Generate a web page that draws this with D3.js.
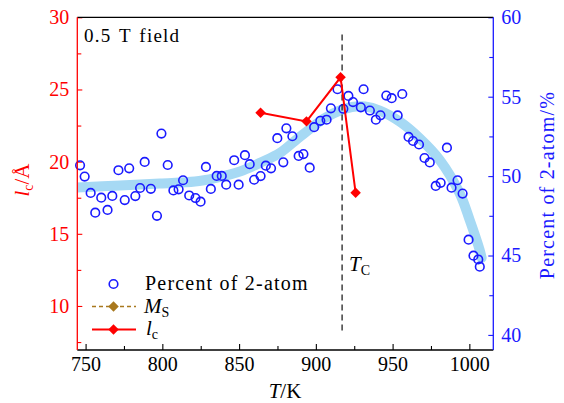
<!DOCTYPE html>
<html>
<head>
<meta charset="utf-8">
<script src="https://cdn.jsdelivr.net/npm/d3@7"></script>
<style>
  html, body { margin: 0; padding: 0; background: #fff; }
</style>
</head>
<body>
<svg id="chart" width="564" height="403"></svg>
<script>
// Percent of 2-atom (right axis)
const tempK = [746.4, 749.4, 753.3, 756.3, 760.2, 764.3, 767.4, 771.4, 775.5, 778.4,
  782.4, 785.5, 788.5, 792.5, 796.5, 799.4, 803.5, 807.2, 810.6, 813.5,
  817.5, 821.6, 824.9, 828.4, 831.6, 835.4, 838.7, 841.6, 846.8, 849.7,
  853.8, 856.9, 859.8, 864.0, 867.4, 870.8, 874.9, 878.8, 880.8, 884.7,
  888.8, 891.9, 896.0, 898.9, 902.9, 907.0, 909.8, 914.1, 917.9, 921.2,
  924.2, 929.3, 931.1, 935.2, 939.1, 942.1, 945.9, 949.4, 953.3, 956.3,
  960.4, 963.3, 967.2, 970.8, 974.2, 978.1, 981.3, 985.4, 988.4, 992.3,
  995.6, 999.5, 1002.7, 1005.8, 1006.8];
const pct2atom = [50.68, 49.97, 48.94, 47.70, 48.64, 47.87, 48.75, 50.37, 48.49, 50.49,
  48.74, 49.25, 50.89, 49.20, 47.50, 52.68, 50.70, 49.10, 49.17, 49.74,
  48.78, 48.62, 48.39, 50.58, 49.19, 50.01, 50.01, 49.46, 51.00, 49.46,
  51.32, 50.75, 49.77, 50.00, 50.66, 50.49, 52.39, 50.87, 53.01, 52.51,
  51.27, 51.39, 50.53, 53.08, 53.48, 53.55, 54.27, 55.47, 54.24, 55.05,
  54.66, 54.33, 55.47, 54.13, 53.55, 53.83, 55.07, 54.91, 53.82, 55.17,
  52.47, 52.21, 51.99, 51.14, 50.86, 49.38, 49.58, 51.79, 49.27, 49.74,
  48.90, 46.00, 44.99, 44.75, 44.30];

// smooth guide curve (light blue band)
const fitT = [744.6, 772.4, 798.4, 821.2, 834.2, 850.5, 864.8, 876.5, 886.3, 896.1,
  905.9, 915.7, 923.5, 932.0, 941.7, 954.7, 967.7, 980.7, 993.7, 1000.2, 1006.7, 1008.0];
const fitPct = [49.29, 49.41, 49.54, 49.66, 49.88, 50.29, 50.89, 51.46, 52.21, 52.97,
  53.66, 54.13, 54.35, 54.38, 54.13, 53.43, 52.38, 51.02, 48.92, 47.24, 45.35, 44.85];

// l_c (left axis)
const lcT = [864.0, 893.9, 916.1, 925.9];
const lcVal = [23.39, 22.79, 25.84, 17.85];

// Curie temperature marker
const tcK = 917.1;
const tcSpan = [8.3, 28.8];

const xMajor = [750, 800, 850, 900, 950, 1000];
const xMinor = [775, 825, 875, 925, 975];
const yLMajor = [10, 15, 20, 25, 30];
const yLMinor = [7.5, 12.5, 17.5, 22.5, 27.5];
const yRMajor = [40, 45, 50, 55, 60];
const yRMinor = [42.5, 47.5, 52.5, 57.5];

const RED = '#ff0000', BLUE = '#1a1aff', BROWN = '#a8781e', BAND = '#a6d9f4';
const SERIF = "'Liberation Serif'";

const svg = d3.select('#chart');
const L = 77.3, R = 493.3, T = 17.3, B = 350;

const x = d3.scaleLinear().domain([744.6, 1015.6]).range([L, R]);
const yL = d3.scaleLinear().domain([6.95, 30]).range([B, T]);
const yR = d3.scaleLinear().domain([39.05, 60]).range([B, T]);

svg.append('clipPath').attr('id', 'plot')
  .append('rect').attr('x', L).attr('y', T).attr('width', R - L).attr('height', B - T);

// every label goes through here so the serif face sticks
function label(sel, size) {
  return sel.style('font-family', SERIF).style('font-size', size + 'px');
}

// axes (ticks point inward)
function styleAxis(g, color) {
  g.attr('font-family', null).attr('font-size', null);
  g.select('.domain').remove();
  g.selectAll('line').attr('stroke', color).attr('stroke-width', 1.1);
  label(g.selectAll('text'), 20).attr('fill', color);
}

svg.append('g').attr('transform', `translate(0,${B})`)
  .call(d3.axisBottom(x).tickValues(xMajor).tickSize(-6).tickPadding(7).tickFormat(d3.format('d')))
  .call(g => styleAxis(g, '#000'));
svg.append('g').attr('transform', `translate(0,${B})`)
  .call(d3.axisBottom(x).tickValues(xMinor).tickSize(-4).tickFormat(''))
  .call(g => styleAxis(g, '#000'));

svg.append('g').attr('transform', `translate(${L},0)`)
  .call(d3.axisLeft(yL).tickValues(yLMajor).tickSize(-5).tickPadding(8))
  .call(g => styleAxis(g, RED));
svg.append('g').attr('transform', `translate(${L},0)`)
  .call(d3.axisLeft(yL).tickValues(yLMinor).tickSize(-4).tickFormat(''))
  .call(g => styleAxis(g, RED));

svg.append('g').attr('transform', `translate(${R},0)`)
  .call(d3.axisRight(yR).tickValues(yRMajor).tickSize(-5).tickPadding(8))
  .call(g => styleAxis(g, BLUE));
svg.append('g').attr('transform', `translate(${R},0)`)
  .call(d3.axisRight(yR).tickValues(yRMinor).tickSize(-4).tickFormat(''))
  .call(g => styleAxis(g, BLUE));

// guide band
const fitData = fitT.map((t, i) => [t, fitPct[i]]);
svg.append('path')
  .datum(fitData)
  .attr('clip-path', 'url(#plot)')
  .attr('d', d3.line().x(d => x(d[0])).y(d => yR(d[1])).curve(d3.curveCatmullRom))
  .attr('fill', 'none')
  .attr('stroke', BAND)
  .attr('stroke-width', 10)
  .attr('stroke-linecap', 'round');

// hollow circles
svg.append('g').selectAll('circle')
  .data(tempK.map((t, i) => [t, pct2atom[i]]))
  .join('circle')
  .attr('cx', d => x(d[0]))
  .attr('cy', d => yR(d[1]))
  .attr('r', 4.3)
  .attr('fill', 'none')
  .attr('stroke', BLUE)
  .attr('stroke-width', 1.6);

// T_C dashed line
svg.append('line')
  .attr('x1', x(tcK)).attr('x2', x(tcK))
  .attr('y1', yL(tcSpan[0])).attr('y2', yL(tcSpan[1]))
  .attr('stroke', '#222').attr('stroke-width', 1.3)
  .attr('stroke-dasharray', '6,4');

// l_c line + diamonds
const diamond = d3.symbol().type(d3.symbolDiamond2).size(70);
const lcData = lcT.map((t, i) => [t, lcVal[i]]);
svg.append('path')
  .datum(lcData)
  .attr('d', d3.line().x(d => x(d[0])).y(d => yL(d[1])))
  .attr('fill', 'none').attr('stroke', RED).attr('stroke-width', 2);
svg.append('g').selectAll('path')
  .data(lcData)
  .join('path')
  .attr('transform', d => `translate(${x(d[0])},${yL(d[1])})`)
  .attr('d', diamond)
  .attr('fill', RED);

// frame
svg.append('line').attr('x1', L).attr('x2', R).attr('y1', T).attr('y2', T).attr('stroke', '#000').attr('stroke-width', 1.3);
svg.append('line').attr('x1', L).attr('x2', R).attr('y1', B).attr('y2', B).attr('stroke', '#000').attr('stroke-width', 1.3);
svg.append('line').attr('x1', L).attr('x2', L).attr('y1', T).attr('y2', B).attr('stroke', RED).attr('stroke-width', 1.3);
svg.append('line').attr('x1', R).attr('x2', R).attr('y1', T).attr('y2', B).attr('stroke', BLUE).attr('stroke-width', 1.3);

// annotations
label(svg.append('text'), 19).attr('x', 84).attr('y', 42)
  .attr('letter-spacing', 1.2).attr('word-spacing', 2).text('0.5 T field');

const tc = label(svg.append('text'), 21).attr('x', 349).attr('y', 271);
tc.append('tspan').style('font-style', 'italic').text('T');
tc.append('tspan').style('font-size', '14px').attr('dy', 4).text('C');

// axis titles
const xt = label(svg.append('text'), 21).attr('x', 285).attr('y', 398).attr('text-anchor', 'middle');
xt.append('tspan').style('font-style', 'italic').text('T');
xt.append('tspan').text('/K');

const ylt = label(svg.append('text'), 21).attr('transform', 'translate(29,180) rotate(-90)')
  .attr('text-anchor', 'middle').attr('fill', RED);
ylt.append('tspan').style('font-style', 'italic').text('l');
ylt.append('tspan').style('font-size', '14px').attr('dy', 4).text('c');
ylt.append('tspan').attr('dy', -4).text('/Å');

label(svg.append('text'), 20).attr('transform', 'translate(554,185) rotate(-90)')
  .attr('text-anchor', 'middle').attr('fill', BLUE)
  .attr('letter-spacing', 1.2).text('Percent of 2-atom/%');

// legend
const lg = svg.append('g');
lg.append('circle').attr('cx', 113.5).attr('cy', 284).attr('r', 4.3)
  .attr('fill', 'none').attr('stroke', BLUE).attr('stroke-width', 1.6);
label(lg.append('text'), 20).attr('x', 145).attr('y', 290)
  .attr('letter-spacing', 1.2).text('Percent of 2-atom');

lg.append('line').attr('x1', 92).attr('x2', 136).attr('y1', 306.5).attr('y2', 306.5)
  .attr('stroke', BROWN).attr('stroke-width', 1.4).attr('stroke-dasharray', '4,3');
lg.append('path').attr('transform', 'translate(113.5,306.5)').attr('d', diamond).attr('fill', BROWN);
const ms = label(lg.append('text'), 21).attr('x', 144).attr('y', 313);
ms.append('tspan').style('font-style', 'italic').text('M');
ms.append('tspan').style('font-size', '14px').attr('dy', 4).text('S');

lg.append('line').attr('x1', 92).attr('x2', 136).attr('y1', 329.5).attr('y2', 329.5)
  .attr('stroke', RED).attr('stroke-width', 2);
lg.append('path').attr('transform', 'translate(113.5,329.5)').attr('d', diamond).attr('fill', RED);
const lc = label(lg.append('text'), 21).attr('x', 146).attr('y', 335);
lc.append('tspan').style('font-style', 'italic').text('l');
lc.append('tspan').style('font-size', '14px').attr('dy', 4).text('c');
</script>
</body>
</html>
